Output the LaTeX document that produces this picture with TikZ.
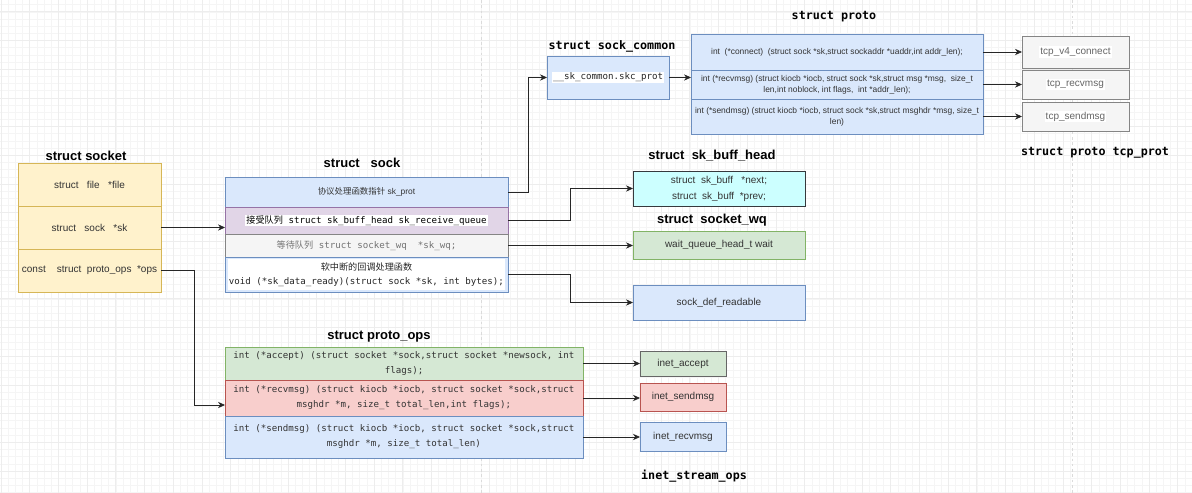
\documentclass[tikz,border=0pt]{standalone}
\usepackage{fontspec}
\setmainfont{Liberation Sans}
\setmonofont{DejaVu Sans Mono}
\newfontfamily\cjk{Noto Sans CJK SC}
\usetikzlibrary{arrows.meta}

\definecolor{bluefill}{HTML}{DAE8FC}\definecolor{blueline}{HTML}{6C8EBF}
\definecolor{greenfill}{HTML}{D5E8D4}\definecolor{greenline}{HTML}{82B366}
\definecolor{redfill}{HTML}{F8CECC}\definecolor{redline}{HTML}{B85450}
\definecolor{purplefill}{HTML}{E1D5E7}\definecolor{purpleline}{HTML}{9673A6}
\definecolor{yellowfill}{HTML}{FFF2CC}\definecolor{yellowline}{HTML}{D6B656}
\definecolor{grayfill}{HTML}{F5F5F5}\definecolor{grayline}{HTML}{666666}
\definecolor{cyanfill}{HTML}{CCFFFF}\definecolor{cyanline}{HTML}{36393D}
\definecolor{textgray}{HTML}{333333}

\begin{document}
\begin{tikzpicture}[x=0.02cm,y=-0.02cm,
    cell/.style 2 args={draw,rectangle,anchor=north west,inner sep=0pt,outer sep=0pt,
        minimum width=#1*0.02cm,minimum height=#2*0.02cm,align=center,line width=0.45pt,
        text=textgray,font=\fontsize{5.7}{8}\selectfont},
    blue/.style={fill=bluefill,draw=blueline},
    green/.style={fill=greenfill,draw=greenline},
    red/.style={fill=redfill,draw=redline},
    purple/.style={fill=purplefill,draw=purpleline},
    yellow/.style={fill=yellowfill,draw=yellowline},
    gray/.style={fill=grayfill,draw=grayline!80},
    cyan/.style={fill=cyanfill,draw=cyanline},
    mono/.style={font=\ttfamily\fontsize{5.2}{8.5}\selectfont},
    small/.style={font=\fontsize{4.8}{6.3}\selectfont},
    heading/.style={font=\bfseries\fontsize{7.4}{9}\selectfont},
    monohead/.style={font=\ttfamily\bfseries\fontsize{6.66}{8}\selectfont},
    link/.style={draw=black!85,line width=0.45pt,-{Stealth[length=4pt,width=3.6pt]}},
    gridminor/.style={draw=black!4,line width=0.3pt},
    gridmajor/.style={draw=black!7,line width=0.4pt}]
    \fboxsep=0.6pt
    \useasboundingbox[fill=white] (0,0) rectangle (1192,493);

    % grid
    \foreach \i in {0,...,166} \draw[gridminor] (1+\i*7.175,0) -- (1+\i*7.175,493);
    \foreach \i in {0,...,68} \draw[gridminor] (0,4.6+\i*7.175) -- (1192,4.6+\i*7.175);
    \foreach \i in {0,...,41} \draw[gridmajor] (1+\i*28.7,0) -- (1+\i*28.7,493);
    \foreach \i in {0,...,17} \draw[gridmajor] (0,11.8+\i*28.7) -- (1192,11.8+\i*28.7);
    \foreach \x in {481,1072} \draw[black!14,line width=0.4pt,dash pattern=on 1.5pt off 1.5pt] (\x,0) -- (\x,493);

    % struct socket
    \node[heading] (sockettitle) at (86,156) {struct socket};
    \node[cell={143}{43},yellow] (sfile) at (18,163) {struct\ \ \ file\ \ \ *file};
    \node[cell={143}{43},yellow] (ssk) at (18,206) {struct\ \ \ sock\ \ \ *sk};
    \node[cell={143}{43},yellow] (sops) at (18,249) {const\ \ \ \ struct\ \ proto\_ops\ \ *ops};

    % struct sock
    \node[heading] (socktitle) at (362,163) {struct\ \ \ sock};
    \node[cell={283}{30},blue,small] (kprot) at (225,177) {{\cjk 协议处理函数指针} sk\_prot};
    \node[cell={283}{27},purple,mono,text=black] (krecv) at (225,207)
        {\colorbox{white}{{\cjk 接受队列} struct sk\_buff\_head sk\_receive\_queue}};
    \node[cell={283}{23},gray,mono,text=black!55] (kwq) at (225,234)
        {{\cjk 等待队列}\ struct socket\_wq\ \ *sk\_wq;};
    \node[cell={283}{35},blue,mono,text=black!85] (kready) at (225,257)
        {\colorbox{white}{\begin{tabular}{@{}c@{}}{\cjk 软中断的回调处理函数}\\void (*sk\_data\_ready)(struct sock *sk, int bytes);\end{tabular}}};

    % struct sock_common
    \node[monohead] (commontitle) at (612,46) {struct sock\_common};
    \node[cell={122}{43},blue,mono,text=black!85] (scprot) at (547,56) {\colorbox{white}{\_\_sk\_common.skc\_prot}};

    % struct proto
    \node[monohead] (prototitle) at (834,17) {struct proto};
    \node[cell={292}{36},blue,small] (pconn) at (691,34)
        {int\ \ (*connect)\ \ (struct sock *sk,struct sockaddr *uaddr,int addr\_len);};
    \node[cell={292}{29},blue,small] (precv) at (691,70)
        {int (*recvmsg) (struct kiocb *iocb, struct sock *sk,struct msg *msg,\ \ size\_t\\len,int noblock, int flags,\ \ int *addr\_len);};
    \node[cell={292}{35},blue,small] (psend) at (691,99)
        {int (*sendmsg) (struct kiocb *iocb, struct sock *sk,struct msghdr *msg, size\_t\\len)};

    % struct proto tcp_prot
    \node[cell={107}{32},gray,text=black!60] (tconn) at (1022,36) {\colorbox{white}{tcp\_v4\_connect}};
    \node[cell={107}{29},gray,text=black!60] (trecv) at (1022,70) {\colorbox{white}{tcp\_recvmsg}};
    \node[cell={107}{29},gray,text=black!60] (tsend) at (1022,102) {\colorbox{white}{tcp\_sendmsg}};
    \node[monohead] (tcptitle) at (1095,153) {struct proto tcp\_prot};

    % struct sk_buff_head, struct socket_wq
    \node[heading] (bufftitle) at (712,156) {struct\ \ sk\_buff\_head};
    \node[cell={172}{35},cyan,font=\fontsize{5.7}{9.1}\selectfont] (bhead) at (633,171)
        {struct\ \ sk\_buff\ \ \ *next;\\struct\ \ sk\_buff\ \ *prev;};
    \node[heading] (wqtitle) at (712,220) {struct\ \ socket\_wq};
    \node[cell={172}{28},green] (wqwait) at (633,231) {wait\_queue\_head\_t wait};
    \node[cell={172}{35},blue] (rdef) at (633,285) {sock\_def\_readable};

    % struct proto_ops
    \node[heading] (opstitle) at (379,337) {struct proto\_ops};
    \node[cell={358}{33},green,mono] (oacc) at (225,347)
        {int (*accept) (struct socket *sock,struct socket *newsock, int\\flags);};
    \node[cell={358}{36},red,mono] (orecv) at (225,380)
        {int (*recvmsg) (struct kiocb *iocb, struct socket *sock,struct\\msghdr *m, size\_t total\_len,int flags);};
    \node[cell={358}{42},blue,mono] (osend) at (225,416)
        {int (*sendmsg) (struct kiocb *iocb, struct socket *sock,struct\\msghdr *m, size\_t total\_len)};

    % inet_stream_ops
    \node[cell={86}{25},green,draw=grayline] (iacc) at (640,351) {inet\_accept};
    \node[cell={86}{28},red] (isend) at (640,383) {inet\_sendmsg};
    \node[cell={86}{29},blue] (irecv) at (640,422) {inet\_recvmsg};
    \node[monohead] (inettitle) at (694,476) {inet\_stream\_ops};

    % Arrows
    \draw[link] (ssk.east) -- (ssk.east -| krecv.west);
    \draw[link] (sops.east) -- ++(33,0) |- ([yshift=-0.14cm]orecv.west);
    \draw[link] (kprot.east) -- ++(20,0) |- (scprot.west);
    \draw[link] (krecv.east) -- ++(62,0) |- (bhead.west);
    \draw[link] (kwq.east) -- (kwq.east -| wqwait.west);
    \draw[link] (kready.east) -- ++(62,0) |- (rdef.west);
    \draw[link] (scprot.east) -- (scprot.east -| precv.west);
    \draw[link] (pconn.east) -- (tconn.west);
    \draw[link] (precv.east) -- (trecv.west);
    \draw[link] (psend.east) -- (tsend.west);
    \draw[link] (oacc.east) -- (iacc.west);
    \draw[link] (orecv.east) -- (orecv.east -| isend.west);
    \draw[link] (osend.east) -- (osend.east -| irecv.west);
\end{tikzpicture}
\end{document}
